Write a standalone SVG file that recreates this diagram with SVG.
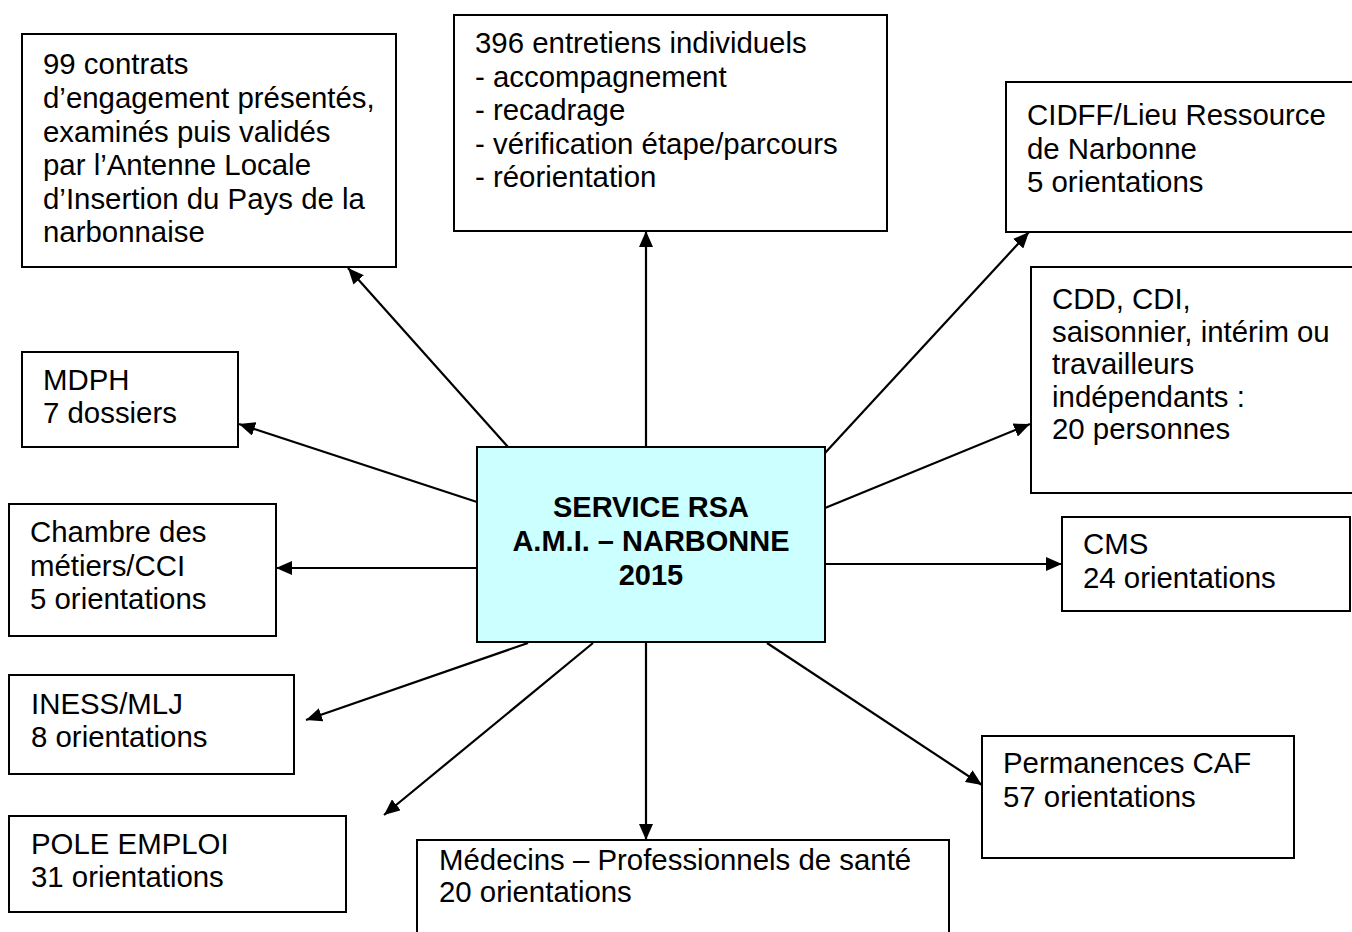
<svg xmlns="http://www.w3.org/2000/svg" width="1352" height="932" viewBox="0 0 1352 932">
<defs>
<style>
.box{fill:#fff;stroke:#000;stroke-width:2}
.center{fill:#ccffff;stroke:#000;stroke-width:2}
.t{font-family:"Liberation Sans",Arial,sans-serif;font-size:29.4px;fill:#000}
.b{font-family:"Liberation Sans",Arial,sans-serif;font-size:29px;font-weight:bold;fill:#000;text-anchor:middle}
.c{stroke:#000;stroke-width:2.2;fill:none;marker-end:url(#ah)}
</style>
<marker id="ah" markerUnits="userSpaceOnUse" markerWidth="17" markerHeight="14" refX="16" refY="7" orient="auto">
<path d="M0,0 L16,7 L0,14 z" fill="#000"/>
</marker>
</defs>
<rect width="1352" height="932" fill="#fff"/>
<g id="connectors">
<line class="c" x1="508" y1="447" x2="348" y2="268"/>
<line class="c" x1="646" y1="447" x2="646" y2="231"/>
<line class="c" x1="825" y1="453" x2="1029" y2="232"/>
<line class="c" x1="825" y1="508" x2="1030" y2="424"/>
<line class="c" x1="825" y1="564" x2="1062" y2="564"/>
<line class="c" x1="767" y1="643" x2="982" y2="785"/>
<line class="c" x1="646" y1="643" x2="646" y2="840"/>
<line class="c" x1="593" y1="643" x2="384" y2="815"/>
<line class="c" x1="528" y1="643" x2="306" y2="720"/>
<line class="c" x1="477" y1="568" x2="276" y2="568"/>
<line class="c" x1="477" y1="502" x2="239" y2="424"/>
</g>
<g id="center">
<rect class="center" x="477" y="447" width="348" height="195"/>
<text class="b" x="651" y="517">SERVICE RSA</text>
<text class="b" x="651" y="551">A.M.I. – NARBONNE</text>
<text class="b" x="651" y="585">2015</text>
</g>
<g id="contrats">
<rect class="box" x="22" y="34" width="374" height="233"/>
<text class="t" x="43" y="74">99 contrats</text>
<text class="t" x="43" y="108">d’engagement présentés,</text>
<text class="t" x="43" y="141.5">examinés puis validés</text>
<text class="t" x="43" y="175">par l’Antenne Locale</text>
<text class="t" x="43" y="208.5">d’Insertion du Pays de la</text>
<text class="t" x="43" y="242">narbonnaise</text>
</g>
<g id="entretiens">
<rect class="box" x="454" y="15" width="433" height="216"/>
<text class="t" x="475" y="53">396 entretiens individuels</text>
<text class="t" x="475" y="86.5">- accompagnement</text>
<text class="t" x="475" y="120">- recadrage</text>
<text class="t" x="475" y="153.5">- vérification étape/parcours</text>
<text class="t" x="475" y="187">- réorientation</text>
</g>
<g id="cidff">
<rect class="box" x="1006" y="82" width="360" height="150"/>
<text class="t" x="1027" y="125">CIDFF/Lieu Ressource</text>
<text class="t" x="1027" y="159">de Narbonne</text>
<text class="t" x="1027" y="192">5 orientations</text>
</g>
<g id="cdd">
<rect class="box" x="1031" y="267" width="340" height="226"/>
<text class="t" x="1052" y="309">CDD, CDI,</text>
<text class="t" x="1052" y="341.5">saisonnier, intérim ou</text>
<text class="t" x="1052" y="374">travailleurs</text>
<text class="t" x="1052" y="406.5">indépendants :</text>
<text class="t" x="1052" y="439">20 personnes</text>
</g>
<g id="mdph">
<rect class="box" x="22" y="352" width="216" height="95"/>
<text class="t" x="43" y="390">MDPH</text>
<text class="t" x="43" y="423">7 dossiers</text>
</g>
<g id="chambre">
<rect class="box" x="9" y="504" width="267" height="132"/>
<text class="t" x="30" y="542">Chambre des</text>
<text class="t" x="30" y="576">métiers/CCI</text>
<text class="t" x="30" y="609">5 orientations</text>
</g>
<g id="cms">
<rect class="box" x="1062" y="517" width="288" height="94"/>
<text class="t" x="1083" y="554">CMS</text>
<text class="t" x="1083" y="588">24 orientations</text>
</g>
<g id="iness">
<rect class="box" x="9" y="675" width="285" height="99"/>
<text class="t" x="31" y="714">INESS/MLJ</text>
<text class="t" x="31" y="747">8 orientations</text>
</g>
<g id="pole">
<rect class="box" x="9" y="816" width="337" height="96"/>
<text class="t" x="31" y="854">POLE EMPLOI</text>
<text class="t" x="31" y="887">31 orientations</text>
</g>
<g id="medecins">
<rect class="box" x="417" y="840" width="532" height="100"/>
<text class="t" x="439" y="870">Médecins – Professionnels de santé</text>
<text class="t" x="439" y="902">20 orientations</text>
</g>
<g id="caf">
<rect class="box" x="982" y="736" width="312" height="122"/>
<text class="t" x="1003" y="773">Permanences CAF</text>
<text class="t" x="1003" y="807">57 orientations</text>
</g>
</svg>
